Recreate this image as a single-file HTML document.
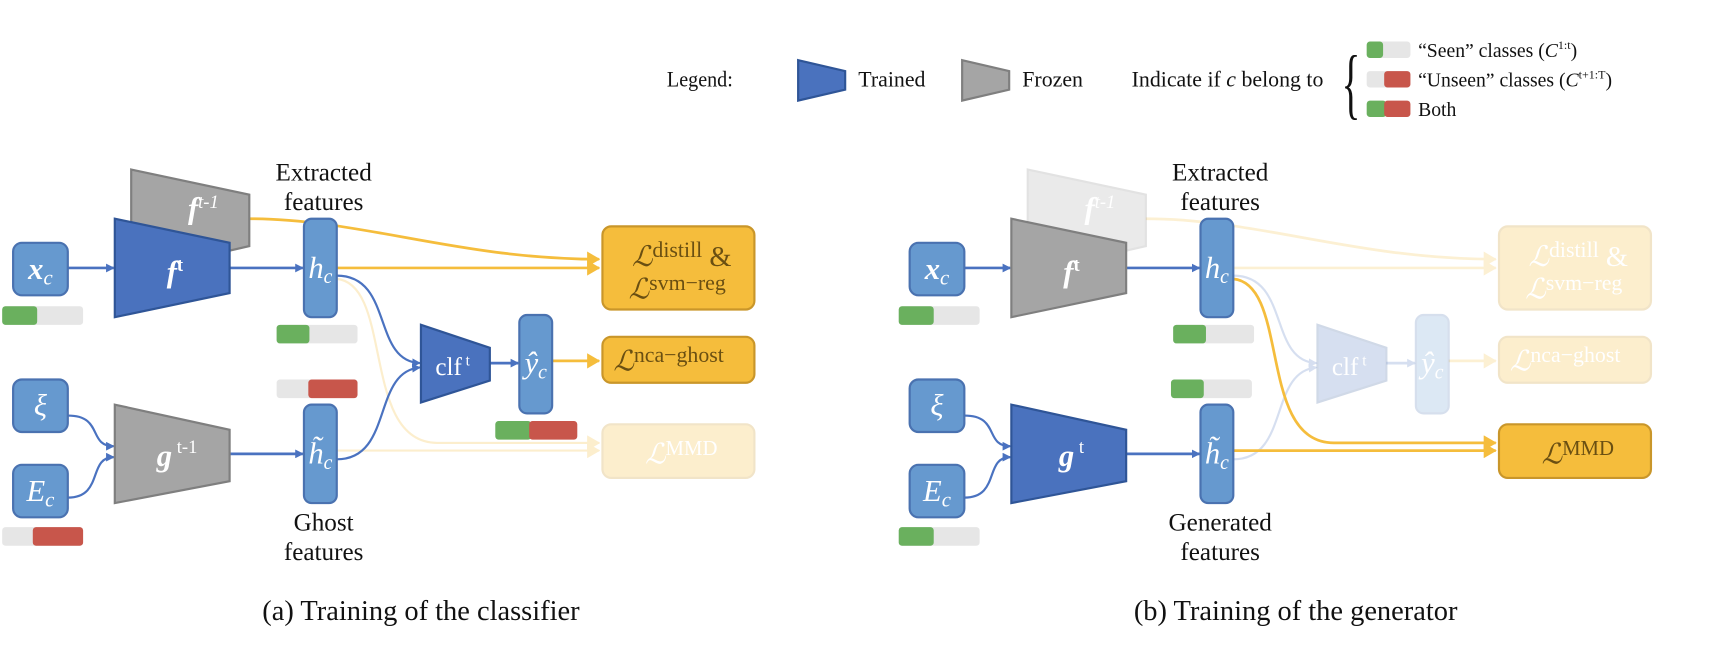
<!DOCTYPE html>
<html><head><meta charset="utf-8"><style>
html,body{margin:0;padding:0;background:#fff;}
svg{display:block;}
text{font-family:"Liberation Serif",serif;}
.lab{font-size:23px;fill:#111;text-anchor:middle;}
.nw{fill:#fff;font-style:italic;text-anchor:middle;font-size:28px;}
</style></head><body>
<svg width="1710" height="654" viewBox="0 0 1564 598" preserveAspectRatio="none" xmlns="http://www.w3.org/2000/svg">
<defs>
<marker id="ab" markerWidth="8" markerHeight="8" refX="7" refY="4" orient="auto" markerUnits="userSpaceOnUse"><path d="M0,0 L8,4 L0,8 z" fill="#4a72c0"/></marker>
<marker id="ao" markerWidth="12" markerHeight="14" refX="11" refY="7" orient="auto" markerUnits="userSpaceOnUse"><path d="M0,0 L12,7 L0,14 z" fill="#f5bd3c"/></marker>
</defs>

<!-- Legend -->
<text x="610" y="79" font-size="20" fill="#111" transform="translate(610,0) scale(0.92,1) translate(-610,0)">Legend:</text>
<polygon points="730,55 773,65 773,82 730,92" fill="#4a72be" stroke="#2f5597" stroke-width="2"/>
<text x="785" y="79" font-size="20" fill="#111">Trained</text>
<polygon points="880,55 923,65 923,82 880,92" fill="#a5a5a5" stroke="#7f7f7f" stroke-width="2"/>
<text x="935" y="79" font-size="20" fill="#111">Frozen</text>
<text x="1035" y="79" font-size="20" fill="#111">Indicate if <tspan font-style="italic">c</tspan> belong to</text>
<text x="1227" y="100" font-size="72" fill="#111" transform="translate(1227,0) scale(0.5,1) translate(-1227,0)">{</text>
<rect x="1250" y="38" width="40" height="15" rx="3" fill="#e6e6e6"/><rect x="1250" y="38" width="15" height="15" rx="3" fill="#6ab05e"/>
<text x="1297" y="52" font-size="18" fill="#111">“Seen” classes (<tspan font-style="italic">C</tspan><tspan font-size="11" dy="-7">1:t</tspan><tspan dy="7">)</tspan></text>
<rect x="1250" y="65" width="40" height="15" rx="3" fill="#e6e6e6"/><rect x="1266" y="65" width="24" height="15" rx="3" fill="#c8564b"/>
<text x="1297" y="79" font-size="18" fill="#111">“Unseen” classes (<tspan font-style="italic">C</tspan><tspan font-size="11" dy="-7">t+1:T</tspan><tspan dy="7">)</tspan></text>
<rect x="1250" y="92" width="18" height="15" rx="3" fill="#6ab05e"/><rect x="1266" y="92" width="24" height="15" rx="3" fill="#c8564b"/>
<text x="1297" y="106" font-size="18" fill="#111">Both</text>

<!-- ============ PANEL A ============ -->
<g>
<path d="M228,200 C330,200 420,237 548,237" fill="none" stroke="#f5bd3c" stroke-width="2.5" marker-end="url(#ao)"/>
<path d="M308,245 L548,245" fill="none" stroke="#f5bd3c" stroke-width="2.5" marker-end="url(#ao)"/>
<path d="M505,330 L548,330" fill="none" stroke="#f5bd3c" stroke-width="2.5" marker-end="url(#ao)"/>
<g opacity="0.25">
<path d="M308,255 C360,260 330,405 400,405 L548,405" fill="none" stroke="#f5bd3c" stroke-width="2" marker-end="url(#ao)"/>
<path d="M308,412 L548,412" fill="none" stroke="#f5bd3c" stroke-width="2" marker-end="url(#ao)"/>
</g>
<path d="M62,245 L104,245" stroke="#4a72c0" stroke-width="2.5" marker-end="url(#ab)"/>
<path d="M210,245 L277,245" stroke="#4a72c0" stroke-width="2.5" marker-end="url(#ab)"/>
<path d="M210,415 L277,415" stroke="#4a72c0" stroke-width="2.5" marker-end="url(#ab)"/>
<path d="M308,252 C360,252 340,330 384,332" fill="none" stroke="#4a72c0" stroke-width="2" marker-end="url(#ab)"/>
<path d="M308,420 C360,420 340,340 384,336" fill="none" stroke="#4a72c0" stroke-width="2" marker-end="url(#ab)"/>
<path d="M448,332 L474,332" stroke="#4a72c0" stroke-width="2.5" marker-end="url(#ab)"/>
<path d="M62,380 C95,380 80,408 104,408" fill="none" stroke="#4a72c0" stroke-width="2" marker-end="url(#ab)"/>
<path d="M62,455 C95,455 80,418 104,418" fill="none" stroke="#4a72c0" stroke-width="2" marker-end="url(#ab)"/>

<polygon points="120,155 228,178 228,225 120,250" fill="#a5a5a5" stroke="#7f7f7f" stroke-width="2"/>
<text x="186" y="200" class="nw" font-weight="bold">f<tspan font-size="17" font-weight="normal" dy="-10">t-1</tspan></text>
<polygon points="105,200 210,222 210,268 105,290" fill="#4a72be" stroke="#2f5597" stroke-width="2"/>
<text x="160" y="258" class="nw" font-weight="bold">f<tspan font-size="17" font-style="normal" dy="-10">t</tspan></text>
<polygon points="105,370 210,393 210,440 105,460" fill="#a5a5a5" stroke="#7f7f7f" stroke-width="2"/>
<text x="162" y="426" class="nw" font-weight="bold">g<tspan font-size="17" font-style="normal" font-weight="normal" dy="-12"> t-1</tspan></text>
<polygon points="385,297 448,318 448,348 385,368" fill="#4a72be" stroke="#2f5597" stroke-width="2"/>
<text x="414" y="343" fill="#fff" font-family="Liberation Sans" font-size="23" text-anchor="middle">clf<tspan font-size="14" dy="-9"> t</tspan></text>

<rect x="12" y="222" width="50" height="48" rx="8" fill="#6699cf" stroke="#4a72b0" stroke-width="2"/>
<text x="37" y="255" class="nw" font-style="normal" font-weight="bold">x<tspan font-style="italic" font-size="19" font-weight="normal" dy="5">c</tspan></text>
<rect x="12" y="347" width="50" height="48" rx="8" fill="#6699cf" stroke="#4a72b0" stroke-width="2"/>
<text x="37" y="380" class="nw">ξ</text>
<rect x="12" y="425" width="50" height="48" rx="8" fill="#6699cf" stroke="#4a72b0" stroke-width="2"/>
<text x="37" y="458" class="nw">E<tspan font-size="19" dy="5">c</tspan></text>
<rect x="278" y="200" width="30" height="90" rx="7" fill="#6699cf" stroke="#4a72b0" stroke-width="2"/>
<text x="293" y="254" class="nw">h<tspan font-size="18" dy="5">c</tspan></text>
<rect x="278" y="370" width="30" height="90" rx="7" fill="#6699cf" stroke="#4a72b0" stroke-width="2"/>
<text x="293" y="424" class="nw">h̃<tspan font-size="18" dy="5">c</tspan></text>
<rect x="475" y="288" width="30" height="90" rx="7" fill="#6699cf" stroke="#4a72b0" stroke-width="2"/>
<text x="490" y="341" class="nw">ŷ<tspan font-size="18" dy="5">c</tspan></text>

<rect x="2" y="280" width="74" height="17" rx="3" fill="#e6e6e6"/><rect x="2" y="280" width="32" height="17" rx="3" fill="#6ab05e"/>
<rect x="253" y="297" width="74" height="17" rx="3" fill="#e6e6e6"/><rect x="253" y="297" width="30" height="17" rx="3" fill="#6ab05e"/>
<rect x="253" y="347" width="74" height="17" rx="3" fill="#e6e6e6"/><rect x="282" y="347" width="45" height="17" rx="3" fill="#c8564b"/>
<rect x="2" y="482" width="74" height="17" rx="3" fill="#e6e6e6"/><rect x="30" y="482" width="46" height="17" rx="3" fill="#c8564b"/>
<rect x="453" y="385" width="33" height="17" rx="3" fill="#6ab05e"/><rect x="484" y="385" width="44" height="17" rx="3" fill="#c8564b"/>

<rect x="551" y="207" width="139" height="76" rx="8" fill="#f5bd3c" stroke="#c9962a" stroke-width="2"/>
<text x="578" y="243" font-size="26" fill="#6a4f12"><tspan font-style="italic">ℒ</tspan><tspan dy="-8" font-size="20">distill</tspan><tspan dy="8"> &amp;</tspan></text>
<text x="575" y="273" font-size="26" fill="#6a4f12"><tspan font-style="italic">ℒ</tspan><tspan dy="-8" font-size="20">svm−reg</tspan></text>
<rect x="551" y="308" width="139" height="42" rx="8" fill="#f5bd3c" stroke="#c9962a" stroke-width="2"/>
<text x="561" y="339" font-size="26" fill="#6a4f12"><tspan font-style="italic">ℒ</tspan><tspan dy="-8" font-size="20">nca−ghost</tspan></text>
<g opacity="0.25">
<rect x="551" y="388" width="139" height="49" rx="8" fill="#f5bd3c" stroke="#c9962a" stroke-width="2"/>
<text x="590" y="424" font-size="26" fill="#fff"><tspan font-style="italic">ℒ</tspan><tspan dy="-8" font-size="19">MMD</tspan></text>
</g>

<text x="296" y="165" class="lab">Extracted</text>
<text x="296" y="192" class="lab">features</text>
<text x="296" y="485" class="lab">Ghost</text>
<text x="296" y="512" class="lab">features</text>
<text x="385" y="567" font-size="26" fill="#111" text-anchor="middle">(a) Training of the classifier</text>
</g>

<!-- ============ PANEL B ============ -->
<g transform="translate(820,0)">
<g opacity="0.22">
<path d="M228,200 C330,200 420,237 548,237" fill="none" stroke="#f5bd3c" stroke-width="2.5" marker-end="url(#ao)"/>
<path d="M308,245 L548,245" fill="none" stroke="#f5bd3c" stroke-width="2.5" marker-end="url(#ao)"/>
<path d="M505,330 L548,330" fill="none" stroke="#f5bd3c" stroke-width="2.5" marker-end="url(#ao)"/>
<path d="M308,252 C360,252 340,330 384,332" fill="none" stroke="#4a72c0" stroke-width="2" marker-end="url(#ab)"/>
<path d="M308,420 C360,420 340,340 384,336" fill="none" stroke="#4a72c0" stroke-width="2" marker-end="url(#ab)"/>
<path d="M448,332 L474,332" stroke="#4a72c0" stroke-width="2.5" marker-end="url(#ab)"/>
</g>
<path d="M308,255 C360,260 330,405 400,405 L548,405" fill="none" stroke="#f5bd3c" stroke-width="2.5" marker-end="url(#ao)"/>
<path d="M308,412 L548,412" fill="none" stroke="#f5bd3c" stroke-width="2.5" marker-end="url(#ao)"/>
<path d="M62,245 L104,245" stroke="#4a72c0" stroke-width="2.5" marker-end="url(#ab)"/>
<path d="M210,245 L277,245" stroke="#4a72c0" stroke-width="2.5" marker-end="url(#ab)"/>
<path d="M210,415 L277,415" stroke="#4a72c0" stroke-width="2.5" marker-end="url(#ab)"/>
<path d="M62,380 C95,380 80,408 104,408" fill="none" stroke="#4a72c0" stroke-width="2" marker-end="url(#ab)"/>
<path d="M62,455 C95,455 80,418 104,418" fill="none" stroke="#4a72c0" stroke-width="2" marker-end="url(#ab)"/>

<g opacity="0.22">
<polygon points="120,155 228,178 228,225 120,250" fill="#a5a5a5" stroke="#7f7f7f" stroke-width="2"/>
<text x="186" y="200" class="nw" font-weight="bold">f<tspan font-size="17" font-weight="normal" dy="-10">t-1</tspan></text>
</g>
<polygon points="105,200 210,222 210,268 105,290" fill="#a5a5a5" stroke="#7f7f7f" stroke-width="2"/>
<text x="160" y="258" class="nw" font-weight="bold">f<tspan font-size="17" font-style="normal" dy="-10">t</tspan></text>
<polygon points="105,370 210,393 210,440 105,460" fill="#4a72be" stroke="#2f5597" stroke-width="2"/>
<text x="160" y="426" class="nw" font-weight="bold">g<tspan font-size="17" font-style="normal" font-weight="normal" dy="-12"> t</tspan></text>
<g opacity="0.22">
<polygon points="385,297 448,318 448,348 385,368" fill="#4a72be" stroke="#2f5597" stroke-width="2"/>
<text x="414" y="343" fill="#fff" font-family="Liberation Sans" font-size="23" text-anchor="middle">clf<tspan font-size="14" dy="-9"> t</tspan></text>
<rect x="475" y="288" width="30" height="90" rx="7" fill="#6699cf" stroke="#4a72b0" stroke-width="2"/>
<text x="490" y="341" class="nw">ŷ<tspan font-size="18" dy="5">c</tspan></text>
</g>

<rect x="12" y="222" width="50" height="48" rx="8" fill="#6699cf" stroke="#4a72b0" stroke-width="2"/>
<text x="37" y="255" class="nw" font-style="normal" font-weight="bold">x<tspan font-style="italic" font-size="19" font-weight="normal" dy="5">c</tspan></text>
<rect x="12" y="347" width="50" height="48" rx="8" fill="#6699cf" stroke="#4a72b0" stroke-width="2"/>
<text x="37" y="380" class="nw">ξ</text>
<rect x="12" y="425" width="50" height="48" rx="8" fill="#6699cf" stroke="#4a72b0" stroke-width="2"/>
<text x="37" y="458" class="nw">E<tspan font-size="19" dy="5">c</tspan></text>
<rect x="278" y="200" width="30" height="90" rx="7" fill="#6699cf" stroke="#4a72b0" stroke-width="2"/>
<text x="293" y="254" class="nw">h<tspan font-size="18" dy="5">c</tspan></text>
<rect x="278" y="370" width="30" height="90" rx="7" fill="#6699cf" stroke="#4a72b0" stroke-width="2"/>
<text x="293" y="424" class="nw">h̃<tspan font-size="18" dy="5">c</tspan></text>

<rect x="2" y="280" width="74" height="17" rx="3" fill="#e6e6e6"/><rect x="2" y="280" width="32" height="17" rx="3" fill="#6ab05e"/>
<rect x="253" y="297" width="74" height="17" rx="3" fill="#e6e6e6"/><rect x="253" y="297" width="30" height="17" rx="3" fill="#6ab05e"/>
<rect x="251" y="347" width="74" height="17" rx="3" fill="#e6e6e6"/><rect x="251" y="347" width="30" height="17" rx="3" fill="#6ab05e"/>
<rect x="2" y="482" width="74" height="17" rx="3" fill="#e6e6e6"/><rect x="2" y="482" width="32" height="17" rx="3" fill="#6ab05e"/>

<g opacity="0.25">
<rect x="551" y="207" width="139" height="76" rx="8" fill="#f5bd3c" stroke="#c9962a" stroke-width="2"/>
<text x="578" y="243" font-size="26" fill="#fff"><tspan font-style="italic">ℒ</tspan><tspan dy="-8" font-size="20">distill</tspan><tspan dy="8"> &amp;</tspan></text>
<text x="575" y="273" font-size="26" fill="#fff"><tspan font-style="italic">ℒ</tspan><tspan dy="-8" font-size="20">svm−reg</tspan></text>
<rect x="551" y="308" width="139" height="42" rx="8" fill="#f5bd3c" stroke="#c9962a" stroke-width="2"/>
<text x="561" y="339" font-size="26" fill="#fff"><tspan font-style="italic">ℒ</tspan><tspan dy="-8" font-size="20">nca−ghost</tspan></text>
</g>
<rect x="551" y="388" width="139" height="49" rx="8" fill="#f5bd3c" stroke="#c9962a" stroke-width="2"/>
<text x="590" y="424" font-size="26" fill="#6a4f12"><tspan font-style="italic">ℒ</tspan><tspan dy="-8" font-size="19">MMD</tspan></text>

<text x="296" y="165" class="lab">Extracted</text>
<text x="296" y="192" class="lab">features</text>
<text x="296" y="485" class="lab">Generated</text>
<text x="296" y="512" class="lab">features</text>
<text x="365" y="567" font-size="26" fill="#111" text-anchor="middle">(b) Training of the generator</text>
</g>
</svg>
</body></html>
